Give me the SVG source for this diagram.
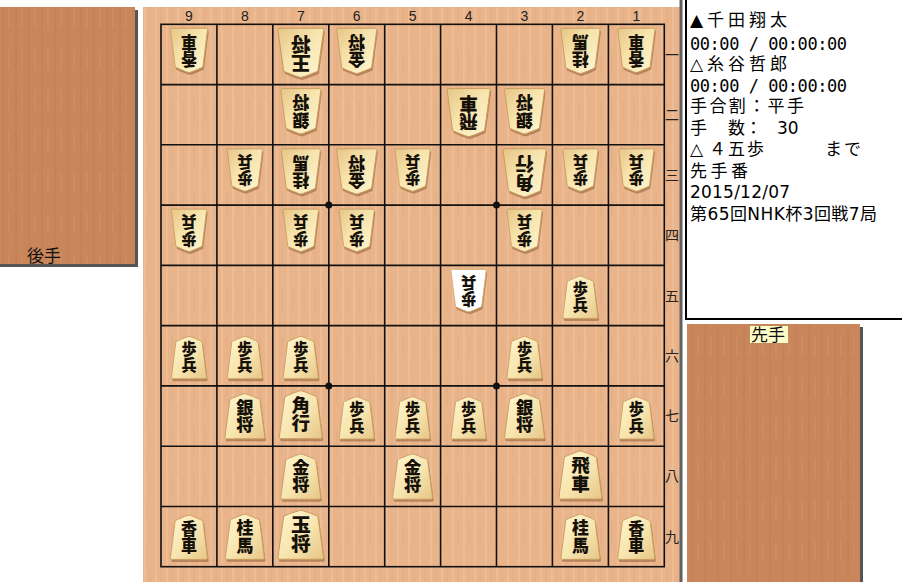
<svg xmlns="http://www.w3.org/2000/svg" width="902" height="582" viewBox="0 0 902 582">
<style>
.body{fill:url(#pg);stroke:#c99c5c;stroke-width:1}
.hl{fill:#ffffff;stroke:#d8b070;stroke-width:1}
.shd{fill:#7a4a22;opacity:.45}
.pt{font-family:"Noto Sans CJK JP",sans-serif;font-size:18.5px;font-weight:900;text-anchor:middle;writing-mode:vertical-rl;fill:#151008}
.grid{stroke:#111;stroke-width:1.6;fill:none}
.num{font-family:"Liberation Sans",sans-serif;font-size:14px;text-anchor:middle;fill:#222}
.kan{font-family:"Noto Sans CJK JP",sans-serif;font-size:14px;text-anchor:middle;fill:#222}
.info{font-family:"DejaVu Sans","Noto Sans CJK JP",sans-serif;font-size:17px;fill:#000}
.mono{font-family:"DejaVu Sans Mono","Noto Sans CJK JP",monospace;font-size:17px;fill:#000}
.lbl{font-family:"Noto Sans CJK JP",sans-serif;font-size:17px;fill:#111}
</style>
<defs>
<linearGradient id="pg" x1="0" y1="0" x2="1" y2="1">
<stop offset="0" stop-color="#fff6d2"/>
<stop offset="0.55" stop-color="#f7e4ad"/>
<stop offset="1" stop-color="#e6c587"/>
</linearGradient>
<pattern id="grain" width="11" height="47" patternUnits="userSpaceOnUse">
<rect width="11" height="47" fill="#eab48b"/>
<path d="M2,0v47" stroke="#f2c6a0" stroke-width="1.2" opacity=".7"/>
<path d="M7,6v22" stroke="#d9a179" stroke-width=".8" opacity=".6"/>
</pattern>
<pattern id="grain2" width="13" height="41" patternUnits="userSpaceOnUse">
<rect width="13" height="41" fill="#c8865a"/>
<path d="M3,0v41" stroke="#b77647" stroke-width="1" opacity=".5"/>
<path d="M9,8v20" stroke="#d49868" stroke-width="1" opacity=".6"/>
</pattern>
<path id="pc" d="M0,-25.5 C2,-25.5 14,-20.5 16,-19.5 L21.5,21 Q21.5,22.5 20,22.5 L-20,22.5 Q-21.5,22.5 -21.5,21 L-16,-19.5 C-14,-20.5 -2,-25.5 0,-25.5 Z"/>
</defs>

<rect width="902" height="582" fill="#ffffff"/>

<g id="komadai-gote">
<rect x="0" y="10" width="138" height="257" fill="#555"/>
<rect x="0" y="7" width="135" height="257" fill="url(#grain2)"/>
<text class="lbl" x="27" y="262">後手</text>
</g>

<g id="board">
<rect x="143" y="7" width="537" height="575" fill="url(#grain)"/>
<rect x="679.5" y="0" width="3" height="582" fill="#606060"/>
<rect class="grid" x="161" y="24.3" width="503.3" height="542.4"/>
<path class="grid" d="M216.9,24.3V566.7M272.8,24.3V566.7M328.8,24.3V566.7M384.7,24.3V566.7M440.6,24.3V566.7M496.5,24.3V566.7M552.4,24.3V566.7M608.4,24.3V566.7M161,84.6H664.3M161,144.8H664.3M161,205.1H664.3M161,265.4H664.3M161,325.6H664.3M161,385.9H664.3M161,446.2H664.3M161,506.5H664.3"/>
<circle cx="328.8" cy="205.1" r="3.5" fill="#111"/>
<circle cx="496.5" cy="205.1" r="3.5" fill="#111"/>
<circle cx="328.8" cy="385.9" r="3.5" fill="#111"/>
<circle cx="496.5" cy="385.9" r="3.5" fill="#111"/>
<g id="col-labels">
<text class="num" x="189" y="21">9</text>
<text class="num" x="244.9" y="21">8</text>
<text class="num" x="300.8" y="21">7</text>
<text class="num" x="356.7" y="21">6</text>
<text class="num" x="412.6" y="21">5</text>
<text class="num" x="468.6" y="21">4</text>
<text class="num" x="524.5" y="21">3</text>
<text class="num" x="580.4" y="21">2</text>
<text class="num" x="636.3" y="21">1</text>
</g>
<g id="row-labels">
<text class="kan" x="672" y="59.5">一</text>
<text class="kan" x="672" y="119.7">二</text>
<text class="kan" x="672" y="180">三</text>
<text class="kan" x="672" y="240.2">四</text>
<text class="kan" x="672" y="300.5">五</text>
<text class="kan" x="672" y="360.8">六</text>
<text class="kan" x="672" y="421">七</text>
<text class="kan" x="672" y="481.3">八</text>
<text class="kan" x="672" y="541.6">九</text>
</g>
</g>

<g id="gote-pieces">
<g id="g91" transform="translate(189,49)"><use href="#pc" class="shd" transform="translate(1,2.5) rotate(180) scale(.864,.922)"/><g transform="rotate(180) scale(.864,.922)"><use href="#pc" class="body"/><text class="pt" x="0" y="-2">香車</text></g></g>
<g id="g71" transform="translate(300.8,51.3)"><use href="#pc" class="shd" transform="translate(1,2.5) rotate(180) scale(1.068,1.02)"/><g transform="rotate(180) scale(1.068,1.02)"><use href="#pc" class="body"/><text class="pt" x="0" y="-2">王将</text></g></g>
<g id="g61" transform="translate(356.7,49.5)"><use href="#pc" class="shd" transform="translate(1,2.5) rotate(180) scale(.932,.941)"/><g transform="rotate(180) scale(.932,.941)"><use href="#pc" class="body"/><text class="pt" x="0" y="-2">金将</text></g></g>
<g id="g21" transform="translate(580.4,49.5)"><use href="#pc" class="shd" transform="translate(1,2.5) rotate(180) scale(.909,.941)"/><g transform="rotate(180) scale(.909,.941)"><use href="#pc" class="body"/><text class="pt" x="0" y="-2">桂馬</text></g></g>
<g id="g11" transform="translate(636.3,49)"><use href="#pc" class="shd" transform="translate(1,2.5) rotate(180) scale(.864,.922)"/><g transform="rotate(180) scale(.864,.922)"><use href="#pc" class="body"/><text class="pt" x="0" y="-2">香車</text></g></g>
<g id="g72" transform="translate(300.8,109.8)"><use href="#pc" class="shd" transform="translate(1,2.5) rotate(180) scale(.932,.941)"/><g transform="rotate(180) scale(.932,.941)"><use href="#pc" class="body"/><text class="pt" x="0" y="-2">銀将</text></g></g>
<g id="g42" transform="translate(468.6,111.1)"><use href="#pc" class="shd" transform="translate(1,2.5) rotate(180)"/><g transform="rotate(180)"><use href="#pc" class="body"/><text class="pt" x="0" y="-2">飛車</text></g></g>
<g id="g32" transform="translate(524.5,109.8)"><use href="#pc" class="shd" transform="translate(1,2.5) rotate(180) scale(.932,.941)"/><g transform="rotate(180) scale(.932,.941)"><use href="#pc" class="body"/><text class="pt" x="0" y="-2">銀将</text></g></g>
<g id="g83" transform="translate(244.9,168.7)"><use href="#pc" class="shd" transform="translate(1,2.5) rotate(180) scale(.818,.882)"/><g transform="rotate(180) scale(.818,.882)"><use href="#pc" class="body"/><text class="pt" x="0" y="-2">歩兵</text></g></g>
<g id="g73" transform="translate(300.8,170)"><use href="#pc" class="shd" transform="translate(1,2.5) rotate(180) scale(.909,.941)"/><g transform="rotate(180) scale(.909,.941)"><use href="#pc" class="body"/><text class="pt" x="0" y="-2">桂馬</text></g></g>
<g id="g63" transform="translate(356.7,170)"><use href="#pc" class="shd" transform="translate(1,2.5) rotate(180) scale(.932,.941)"/><g transform="rotate(180) scale(.932,.941)"><use href="#pc" class="body"/><text class="pt" x="0" y="-2">金将</text></g></g>
<g id="g53" transform="translate(412.6,168.7)"><use href="#pc" class="shd" transform="translate(1,2.5) rotate(180) scale(.818,.882)"/><g transform="rotate(180) scale(.818,.882)"><use href="#pc" class="body"/><text class="pt" x="0" y="-2">歩兵</text></g></g>
<g id="g33" transform="translate(524.5,171.3)"><use href="#pc" class="shd" transform="translate(1,2.5) rotate(180)"/><g transform="rotate(180)"><use href="#pc" class="body"/><text class="pt" x="0" y="-2">角行</text></g></g>
<g id="g23" transform="translate(580.4,168.7)"><use href="#pc" class="shd" transform="translate(1,2.5) rotate(180) scale(.818,.882)"/><g transform="rotate(180) scale(.818,.882)"><use href="#pc" class="body"/><text class="pt" x="0" y="-2">歩兵</text></g></g>
<g id="g13" transform="translate(636.3,168.7)"><use href="#pc" class="shd" transform="translate(1,2.5) rotate(180) scale(.818,.882)"/><g transform="rotate(180) scale(.818,.882)"><use href="#pc" class="body"/><text class="pt" x="0" y="-2">歩兵</text></g></g>
<g id="g94" transform="translate(189,229)"><use href="#pc" class="shd" transform="translate(1,2.5) rotate(180) scale(.818,.882)"/><g transform="rotate(180) scale(.818,.882)"><use href="#pc" class="body"/><text class="pt" x="0" y="-2">歩兵</text></g></g>
<g id="g74" transform="translate(300.8,229)"><use href="#pc" class="shd" transform="translate(1,2.5) rotate(180) scale(.818,.882)"/><g transform="rotate(180) scale(.818,.882)"><use href="#pc" class="body"/><text class="pt" x="0" y="-2">歩兵</text></g></g>
<g id="g64" transform="translate(356.7,229)"><use href="#pc" class="shd" transform="translate(1,2.5) rotate(180) scale(.818,.882)"/><g transform="rotate(180) scale(.818,.882)"><use href="#pc" class="body"/><text class="pt" x="0" y="-2">歩兵</text></g></g>
<g id="g34" transform="translate(524.5,229)"><use href="#pc" class="shd" transform="translate(1,2.5) rotate(180) scale(.818,.882)"/><g transform="rotate(180) scale(.818,.882)"><use href="#pc" class="body"/><text class="pt" x="0" y="-2">歩兵</text></g></g>
<g id="g45" transform="translate(468.6,289.3)"><use href="#pc" class="shd" transform="translate(1,2.5) rotate(180) scale(.818,.882)"/><g transform="rotate(180) scale(.818,.882)"><use href="#pc" class="hl"/><text class="pt" x="0" y="-2">歩兵</text></g></g>
</g>

<g id="sente-pieces">
<g id="s25" transform="translate(580.4,298.6)"><use href="#pc" class="shd" transform="translate(1,2.5) scale(.818,.882)"/><g transform="scale(.818,.882)"><use href="#pc" class="body"/><text class="pt" x="0" y="-2">歩兵</text></g></g>
<g id="s96" transform="translate(189,358.9)"><use href="#pc" class="shd" transform="translate(1,2.5) scale(.818,.882)"/><g transform="scale(.818,.882)"><use href="#pc" class="body"/><text class="pt" x="0" y="-2">歩兵</text></g></g>
<g id="s86" transform="translate(244.9,358.9)"><use href="#pc" class="shd" transform="translate(1,2.5) scale(.818,.882)"/><g transform="scale(.818,.882)"><use href="#pc" class="body"/><text class="pt" x="0" y="-2">歩兵</text></g></g>
<g id="s76" transform="translate(300.8,358.9)"><use href="#pc" class="shd" transform="translate(1,2.5) scale(.818,.882)"/><g transform="scale(.818,.882)"><use href="#pc" class="body"/><text class="pt" x="0" y="-2">歩兵</text></g></g>
<g id="s36" transform="translate(524.5,358.9)"><use href="#pc" class="shd" transform="translate(1,2.5) scale(.818,.882)"/><g transform="scale(.818,.882)"><use href="#pc" class="body"/><text class="pt" x="0" y="-2">歩兵</text></g></g>
<g id="s87" transform="translate(244.9,417.7)"><use href="#pc" class="shd" transform="translate(1,2.5) scale(.932,.941)"/><g transform="scale(.932,.941)"><use href="#pc" class="body"/><text class="pt" x="0" y="-2">銀将</text></g></g>
<g id="s77" transform="translate(300.8,416.2)"><use href="#pc" class="shd" transform="translate(1,2.5)"/><g><use href="#pc" class="body"/><text class="pt" x="0" y="-2">角行</text></g></g>
<g id="s67" transform="translate(356.7,419.2)"><use href="#pc" class="shd" transform="translate(1,2.5) scale(.818,.882)"/><g transform="scale(.818,.882)"><use href="#pc" class="body"/><text class="pt" x="0" y="-2">歩兵</text></g></g>
<g id="s57" transform="translate(412.6,419.2)"><use href="#pc" class="shd" transform="translate(1,2.5) scale(.818,.882)"/><g transform="scale(.818,.882)"><use href="#pc" class="body"/><text class="pt" x="0" y="-2">歩兵</text></g></g>
<g id="s47" transform="translate(468.6,419.2)"><use href="#pc" class="shd" transform="translate(1,2.5) scale(.818,.882)"/><g transform="scale(.818,.882)"><use href="#pc" class="body"/><text class="pt" x="0" y="-2">歩兵</text></g></g>
<g id="s37" transform="translate(524.5,417.7)"><use href="#pc" class="shd" transform="translate(1,2.5) scale(.932,.941)"/><g transform="scale(.932,.941)"><use href="#pc" class="body"/><text class="pt" x="0" y="-2">銀将</text></g></g>
<g id="s17" transform="translate(636.3,419.2)"><use href="#pc" class="shd" transform="translate(1,2.5) scale(.818,.882)"/><g transform="scale(.818,.882)"><use href="#pc" class="body"/><text class="pt" x="0" y="-2">歩兵</text></g></g>
<g id="s78" transform="translate(300.8,478)"><use href="#pc" class="shd" transform="translate(1,2.5) scale(.932,.941)"/><g transform="scale(.932,.941)"><use href="#pc" class="body"/><text class="pt" x="0" y="-2">金将</text></g></g>
<g id="s58" transform="translate(412.6,478)"><use href="#pc" class="shd" transform="translate(1,2.5) scale(.932,.941)"/><g transform="scale(.932,.941)"><use href="#pc" class="body"/><text class="pt" x="0" y="-2">金将</text></g></g>
<g id="s28" transform="translate(580.4,476.5)"><use href="#pc" class="shd" transform="translate(1,2.5)"/><g><use href="#pc" class="body"/><text class="pt" x="0" y="-2">飛車</text></g></g>
<g id="s99" transform="translate(189,538.7)"><use href="#pc" class="shd" transform="translate(1,2.5) scale(.864,.922)"/><g transform="scale(.864,.922)"><use href="#pc" class="body"/><text class="pt" x="0" y="-2">香車</text></g></g>
<g id="s89" transform="translate(244.9,538.2)"><use href="#pc" class="shd" transform="translate(1,2.5) scale(.909,.941)"/><g transform="scale(.909,.941)"><use href="#pc" class="body"/><text class="pt" x="0" y="-2">桂馬</text></g></g>
<g id="s79" transform="translate(300.8,536.2)"><use href="#pc" class="shd" transform="translate(1,2.5) scale(1.068,1.02)"/><g transform="scale(1.068,1.02)"><use href="#pc" class="body"/><text class="pt" x="0" y="-2">玉将</text></g></g>
<g id="s29" transform="translate(580.4,538.2)"><use href="#pc" class="shd" transform="translate(1,2.5) scale(.909,.941)"/><g transform="scale(.909,.941)"><use href="#pc" class="body"/><text class="pt" x="0" y="-2">桂馬</text></g></g>
<g id="s19" transform="translate(636.3,538.7)"><use href="#pc" class="shd" transform="translate(1,2.5) scale(.864,.922)"/><g transform="scale(.864,.922)"><use href="#pc" class="body"/><text class="pt" x="0" y="-2">香車</text></g></g>
</g>

<g id="info-panel">
<rect x="686" y="-2" width="220" height="321" fill="#ffffff" stroke="#000" stroke-width="2"/>
<text class="info" x="690" y="26" textLength="97" lengthAdjust="spacing">▲千田翔太</text>
<text class="mono" x="690" y="49.5" textLength="157" lengthAdjust="spacing">00:00 / 00:00:00</text>
<text class="info" x="690" y="70" textLength="97" lengthAdjust="spacing">△糸谷哲郎</text>
<text class="mono" x="690" y="91.5" textLength="157" lengthAdjust="spacing">00:00 / 00:00:00</text>
<text class="info" x="690" y="112" textLength="114" lengthAdjust="spacing">手合割：平手</text>
<text class="info" y="133.5"><tspan x="690">手</tspan><tspan x="728">数：</tspan><tspan x="777">30</tspan></text>
<text class="info" y="155" x="690 709 728 747 825 844">△４五歩まで</text>
<text class="info" x="690" y="176.5" textLength="58" lengthAdjust="spacing">先手番</text>
<text class="info" x="690" y="198" textLength="100" lengthAdjust="spacing">2015/12/07</text>
<text class="info" x="690" y="220" textLength="187" lengthAdjust="spacing">第65回NHK杯3回戦7局</text>
</g>

<g id="komadai-sente">
<rect x="690" y="327" width="173" height="255" fill="#555"/>
<rect x="687" y="324" width="173" height="258" fill="url(#grain2)"/>
<rect x="750" y="326" width="38" height="17" fill="#fbfbc8"/>
<text class="lbl" x="751" y="341">先手</text>
</g>
</svg>
